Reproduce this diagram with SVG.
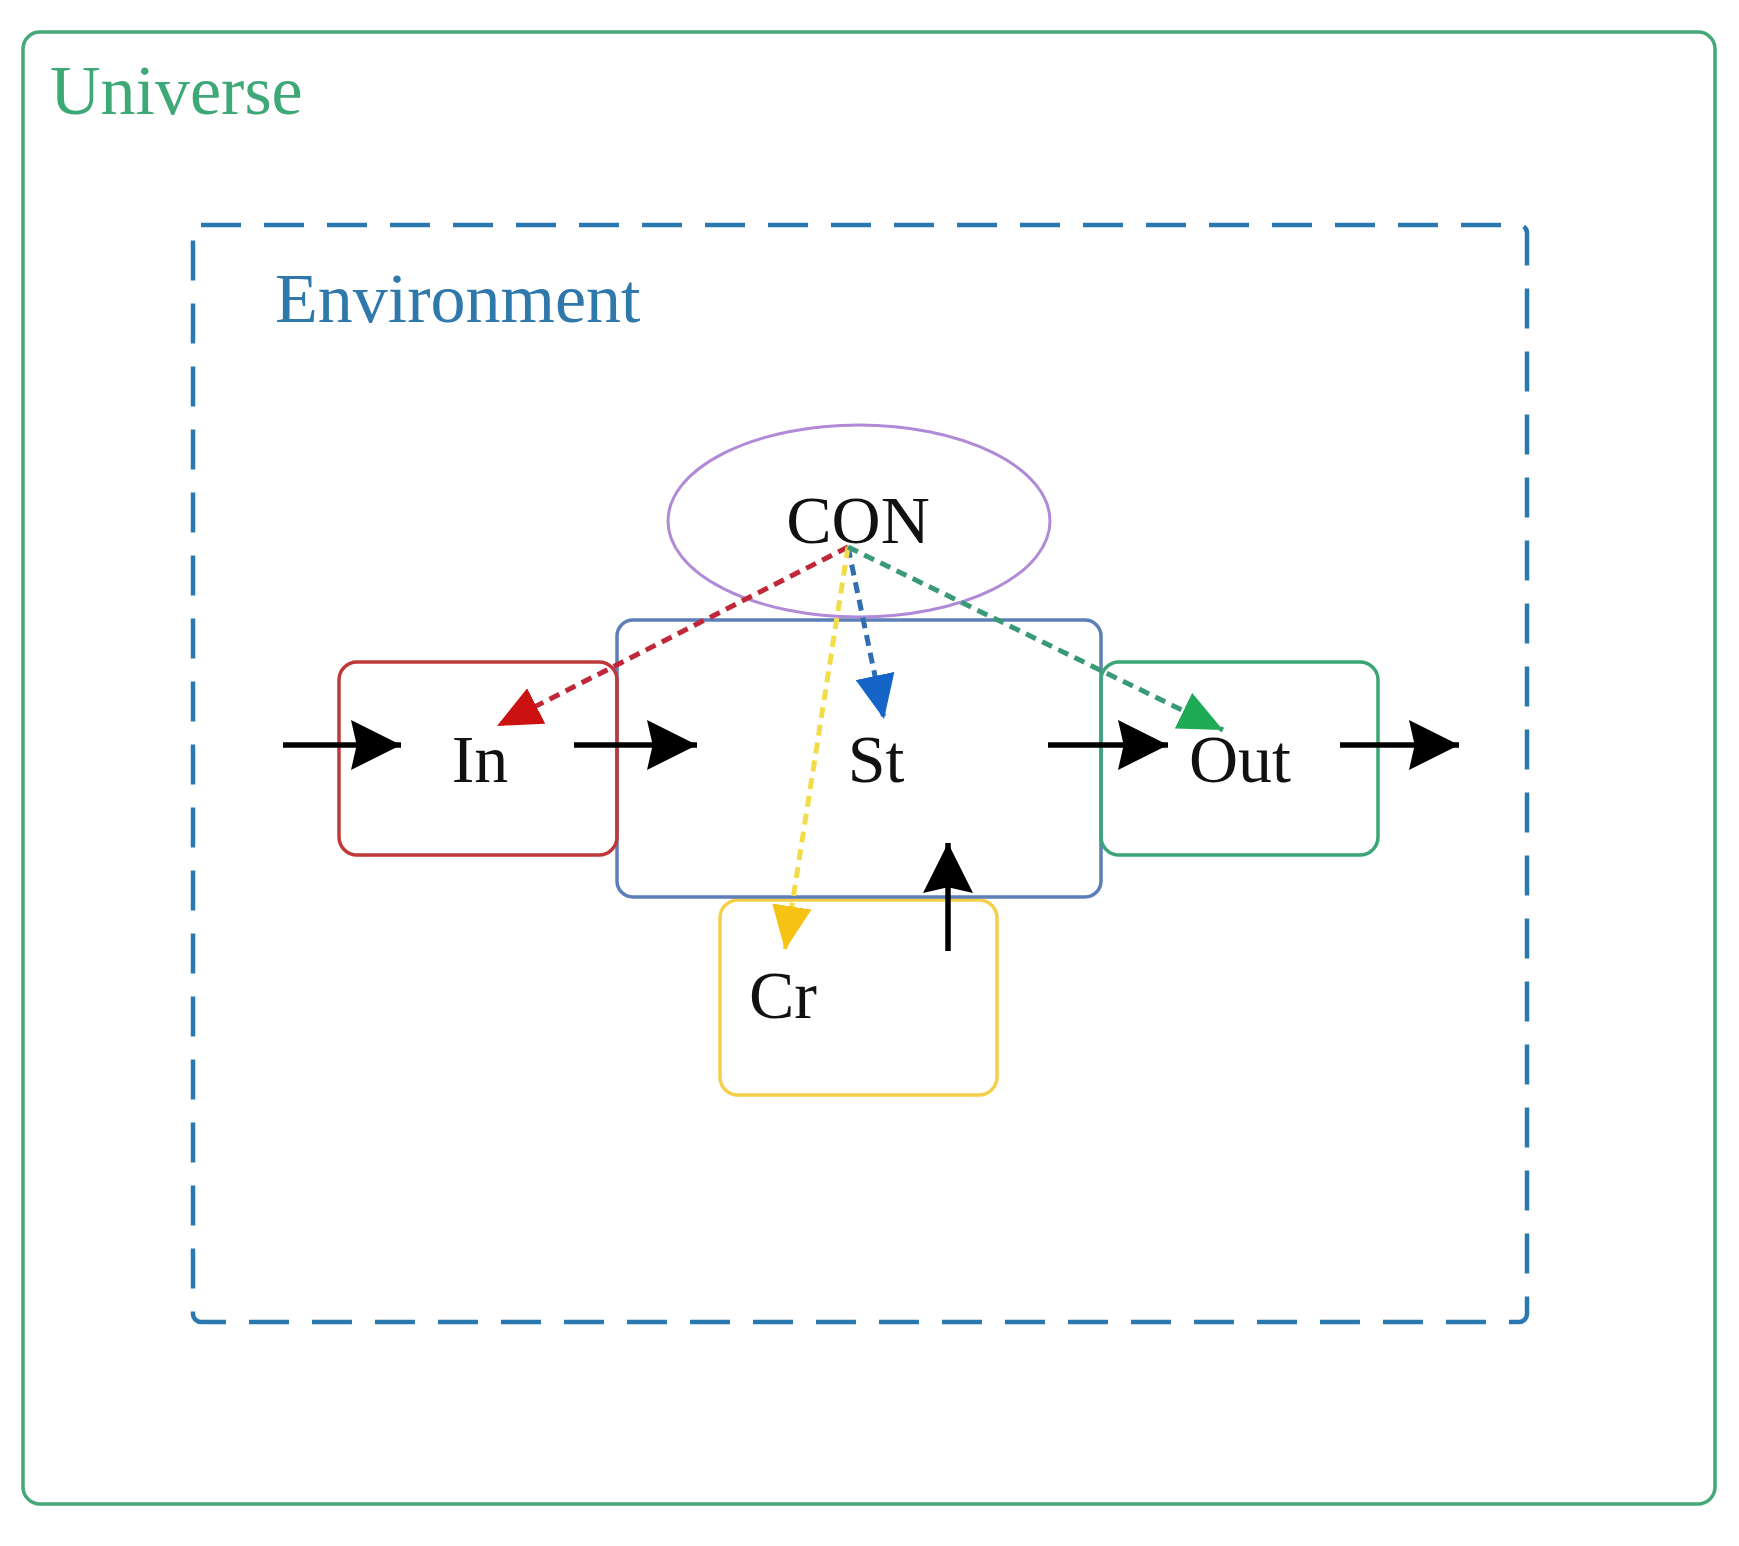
<svg xmlns="http://www.w3.org/2000/svg" width="1739" height="1546" viewBox="0 0 1739 1546">
<defs>
<style>
.lbl{font-family:"Liberation Serif","Times New Roman",serif;fill:#111;font-size:68px;text-anchor:middle}
.box{fill:none;stroke-width:3.5}
.blk{stroke:#000;stroke-width:5.5;fill:none}
.dsh{fill:none;stroke-width:5;stroke-dasharray:11 7}
</style>
<marker id="ab" markerUnits="userSpaceOnUse" markerWidth="50" markerHeight="50" viewBox="0 0 44 44" refX="44" refY="22" orient="auto"><path d="M0,0 L44,22 L0,44 L5,22 Z" fill="#000"/></marker>
<marker id="ar" markerUnits="userSpaceOnUse" markerWidth="44" markerHeight="40" viewBox="0 0 40 36" refX="40" refY="18" orient="auto"><path d="M0,0 L40,18 L0,36 Z" fill="#cc1111"/></marker>
<marker id="au" markerUnits="userSpaceOnUse" markerWidth="44" markerHeight="40" viewBox="0 0 40 36" refX="40" refY="18" orient="auto"><path d="M0,0 L40,18 L0,36 Z" fill="#1565c8"/></marker>
<marker id="ay" markerUnits="userSpaceOnUse" markerWidth="44" markerHeight="40" viewBox="0 0 40 36" refX="40" refY="18" orient="auto"><path d="M0,0 L40,18 L0,36 Z" fill="#f6c213"/></marker>
<marker id="ag" markerUnits="userSpaceOnUse" markerWidth="44" markerHeight="40" viewBox="0 0 40 36" refX="40" refY="18" orient="auto"><path d="M0,0 L40,18 L0,36 Z" fill="#1faa55"/></marker>
</defs>
<rect width="1739" height="1546" fill="#fff"/>
<g id="universe">
<rect x="23" y="32" width="1692" height="1472" rx="17" class="box" stroke="#46a878"/>
<text x="50" y="114" style="font-family:'Liberation Serif','Times New Roman',serif;font-size:70px;fill:#3fa877">Universe</text>
</g>
<g id="environment">
<rect x="193" y="225" width="1334" height="1097" rx="8" fill="none" stroke="#2a78b0" stroke-width="4.5" stroke-dasharray="40 23"/>
<text x="275" y="322" style="font-family:'Liberation Serif','Times New Roman',serif;font-size:70px;fill:#2f78ac">Environment</text>
</g>
<g id="cr">
<rect x="720" y="900" width="277" height="195" rx="18" class="box" stroke="#f5cf4a"/>
<text x="783" y="1018" class="lbl">Cr</text>
</g>
<g id="st">
<rect x="617" y="620" width="484" height="277" rx="16" class="box" stroke="#5d7fb8"/>
<text x="876" y="782" class="lbl">St</text>
</g>
<g id="in">
<rect x="339" y="662" width="278" height="193" rx="18" class="box" stroke="#c0393a"/>
<text x="480" y="782" class="lbl">In</text>
</g>
<g id="out">
<rect x="1101" y="662" width="277" height="193" rx="18" class="box" stroke="#3aa676"/>
<text x="1240" y="782" class="lbl">Out</text>
</g>
<g id="con">
<ellipse cx="859" cy="521" rx="191" ry="96" fill="none" stroke="#b08ad6" stroke-width="3"/>
<text x="858" y="543" class="lbl">CON</text>
</g>
<g id="connectors">
<line x1="283" y1="745" x2="401" y2="745" class="blk" marker-end="url(#ab)"/>
<line x1="574" y1="745" x2="697" y2="745" class="blk" marker-end="url(#ab)"/>
<line x1="1048" y1="745" x2="1168" y2="745" class="blk" marker-end="url(#ab)"/>
<line x1="1340" y1="745" x2="1459" y2="745" class="blk" marker-end="url(#ab)"/>
<line x1="948" y1="951" x2="948" y2="843" class="blk" marker-end="url(#ab)"/>
<line x1="848" y1="547" x2="497" y2="726" class="dsh" stroke="#c0283a" marker-end="url(#ar)"/>
<line x1="848" y1="547" x2="884" y2="719" class="dsh" stroke="#2f6fb0" marker-end="url(#au)"/>
<line x1="848" y1="547" x2="785" y2="950" class="dsh" stroke="#f3dc4a" marker-end="url(#ay)"/>
<line x1="848" y1="547" x2="1223" y2="730" class="dsh" stroke="#3a9a76" marker-end="url(#ag)"/>
</g>
</svg>
